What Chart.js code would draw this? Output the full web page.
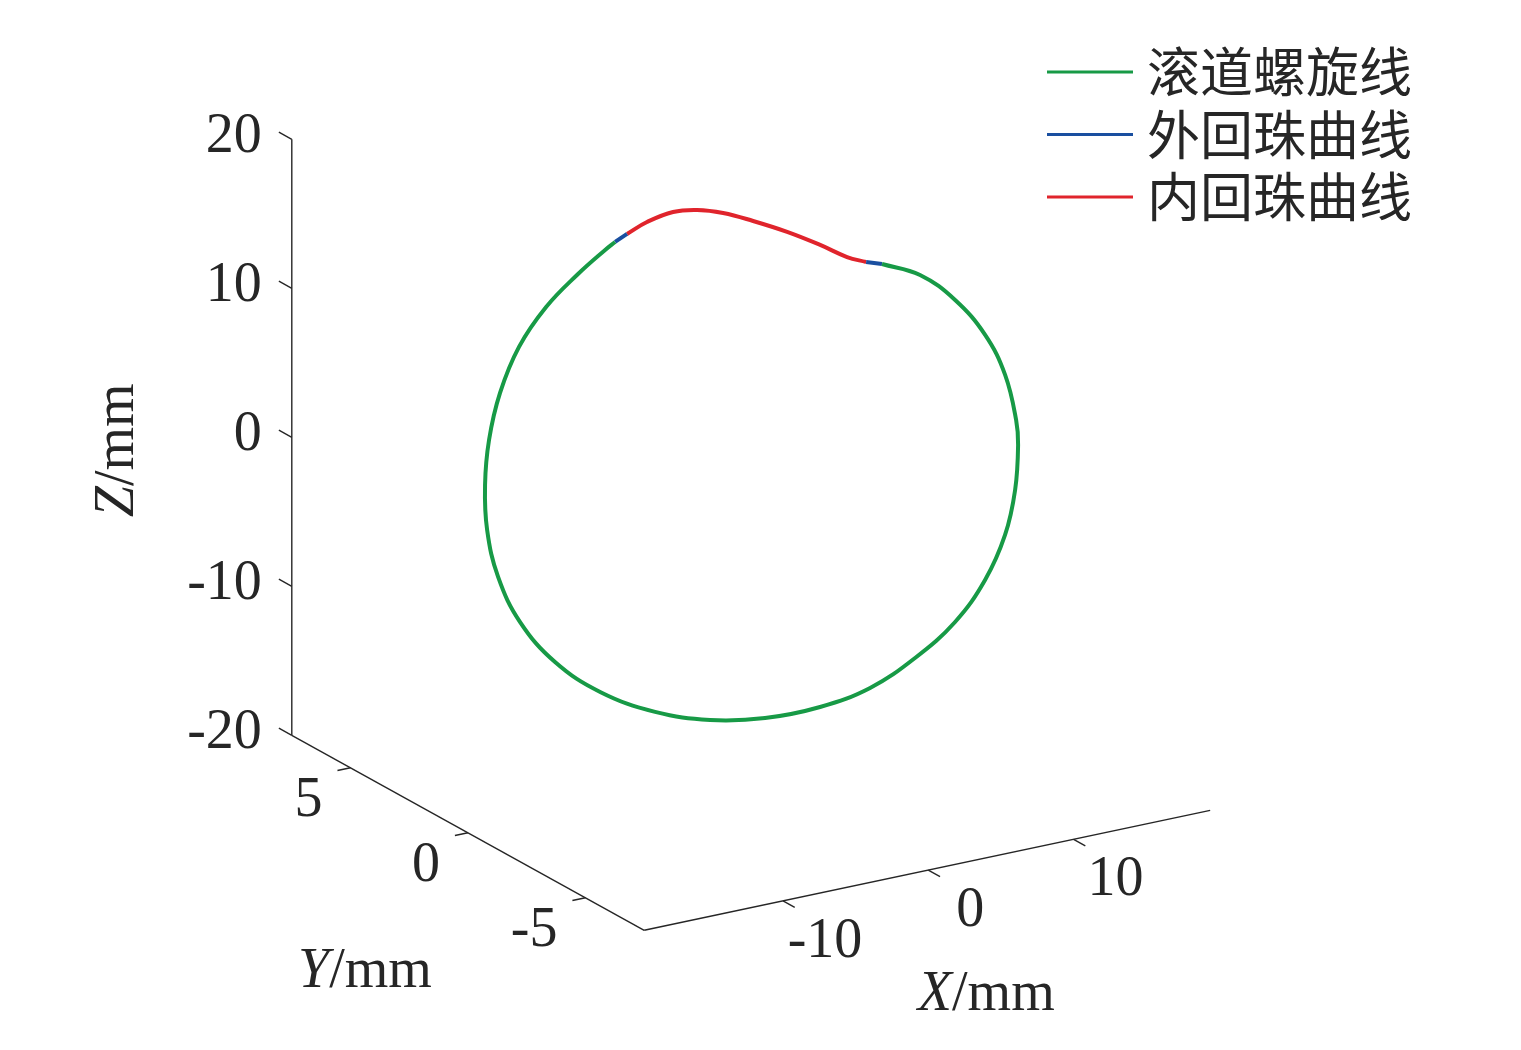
<!DOCTYPE html>
<html>
<head>
<meta charset="utf-8">
<script src="https://cdn.jsdelivr.net/npm/chart.js@4.4.1/dist/chart.umd.min.js"></script>
<style>
  html, body { margin: 0; padding: 0; background: #fff; }
  canvas { display: block; }
</style>
</head>
<body>
<canvas id="chart" width="1521" height="1050"></canvas>
<script>
// legend names
const seriesNames = ["滚道螺旋线", "外回珠曲线", "内回珠曲线"];
const seriesColors = ["#179a46", "#1a4fa0", "#e0242c"];

// raceway helix (mm)
const helixX = [4.90, 7.84, 10.74, 13.13, 14.99, 16.07, 16.53, 16.81, 16.44, 15.55, 13.81, 11.54, 8.77, 5.65, 2.35,
  -1.11, -4.41, -7.87, -10.65, -12.57, -13.76, -14.03, -13.85, -13.09, -12.01, -10.38, -8.03, -5.51, -3.16, -2.15];
const helixY = [-2.5, -2.3, -2.0, -1.8, -1.5, -1.3, -1.1, -0.8, -0.6, -0.3, -0.1, 0.2, 0.4, 0.6, 0.9,
  1.1, 1.4, 1.6, 1.8, 2.1, 2.3, 2.6, 2.8, 3.1, 3.3, 3.5, 3.8, 4.0, 4.3, 4.5];
const helixZ = [15.30, 13.78, 11.24, 8.23, 4.90, 1.48, -0.47, -3.81, -6.93, -10.03, -12.66, -14.87, -16.48, -17.29, -17.61,
  -17.20, -16.24, -14.36, -11.95, -9.13, -6.03, -3.09, -0.28, 2.32, 5.08, 7.66, 9.59, 11.11, 11.98, 12.13];

// outer return curve (two short pieces, null = break)
const outerX = [-2.15, -1.49, null, 3.97, 4.90];
const outerY = [4.5, 4.4, null, -2.4, -2.5];
const outerZ = [12.13, 12.62, null, 15.54, 15.30];

// inner return curve
const innerX = [-1.49, -1.41, -0.75, -0.39, 0.27, 1.04, 2.25, 3.23, 3.95, 3.97];
const innerY = [4.4, 3.6, 2.9, 2.1, 1.4, 0.6, -0.1, -0.9, -1.6, -2.4];
const innerZ = [12.62, 14.10, 15.25, 16.01, 16.28, 16.28, 15.91, 15.53, 15.18, 15.54];

// axis limits and ticks
const xLim = [-19.55, 19.4];
const yLim = [-7.5, 7.5];
const zLim = [-20, 20];
const xTicks = [-10, 0, 10];
const yTicks = [-5, 0, 5];
const zTicks = [-20, -10, 0, 10, 20];

const textColor = "#262626";
const serif = "'Liberation Serif', 'Times New Roman', serif";

// orthographic view (az/el) as a linear map onto the 2D chart plane
const view = { uy: -1.617, vx: 0.2067, vy: 0.8725 };
const project = (x, y, z) => {
  if (x === null) return { x: 0, y: null };
  return { x: x + view.uy * y, y: z + view.vx * x + view.vy * y };
};
const toPoints = (xs, ys, zs) => xs.map((x, i) => project(x, ys[i], zs[i]));

const px = (chart, x, y, z) => {
  const p = project(x, y, z);
  return [chart.scales.x.getPixelForValue(p.x), chart.scales.y.getPixelForValue(p.y)];
};

function axisLabel(ctx, letter, rest, cx, cy, angle) {
  ctx.save();
  ctx.translate(cx, cy);
  ctx.rotate(angle);
  ctx.textBaseline = "middle";
  ctx.textAlign = "left";
  ctx.font = "italic 56px " + serif;
  const w1 = ctx.measureText(letter).width;
  ctx.font = "56px " + serif;
  const w2 = ctx.measureText(rest).width;
  const left = -(w1 + w2) / 2;
  ctx.font = "italic 56px " + serif;
  ctx.fillText(letter, left, 0);
  ctx.font = "56px " + serif;
  ctx.fillText(rest, left + w1, 0);
  ctx.restore();
}

//box axes, ticks and labels
const axesPlugin = {
  id: "axes3d",
  beforeDatasetsDraw(chart) {
    const ctx = chart.ctx;
    const [x0, x1] = xLim, [y0, y1] = yLim, [z0, z1] = zLim;
    ctx.save();
    ctx.strokeStyle = textColor;
    ctx.lineWidth = 1.4;
    const seg = (a, b) => { ctx.beginPath(); ctx.moveTo(a[0], a[1]); ctx.lineTo(b[0], b[1]); ctx.stroke(); };
    seg(px(chart, x0, y1, z0), px(chart, x0, y1, z1));
    seg(px(chart, x0, y1, z0), px(chart, x0, y0, z0));
    seg(px(chart, x0, y0, z0), px(chart, x1, y0, z0));
    zTicks.forEach(t => seg(px(chart, x0, y1, t), px(chart, x0, y1 + 0.55, t)));
    yTicks.forEach(t => seg(px(chart, x0, t, z0), px(chart, x0 - 0.9, t, z0)));
    xTicks.forEach(t => seg(px(chart, t, y0, z0), px(chart, t, y0 - 0.5, z0)));

    ctx.fillStyle = textColor;
    ctx.font = "56px " + serif;
    ctx.textBaseline = "middle";
    ctx.textAlign = "right";
    zTicks.forEach(t => { const p = px(chart, x0, y1, t); ctx.fillText(String(t), p[0] - 30, p[1] - 2); });
    yTicks.forEach(t => { const p = px(chart, x0, t, z0); ctx.fillText(String(t), p[0] - 28, p[1] + 34); });
    ctx.textAlign = "center";
    xTicks.forEach(t => { const p = px(chart, t, y0, z0); ctx.fillText(String(t), p[0] + 42, p[1] + 41); });

    const zm = px(chart, x0, y1, 0);
    axisLabel(ctx, "Z", "/mm", zm[0] - 174, zm[1] + 13, -Math.PI / 2);
    const ym = px(chart, x0, 0, z0);
    axisLabel(ctx, "Y", "/mm", ym[0] - 103, ym[1] + 140, 0);
    const xm = px(chart, 0, y0, z0);
    axisLabel(ctx, "X", "/mm", xm[0] + 58, xm[1] + 125, 0);
    ctx.restore();
  }
};

// legend box top right
const legendPlugin = {
  id: "legendBox",
  afterDraw(chart) {
    const ctx = chart.ctx;
    ctx.save();
    ctx.font = "53px 'Noto Sans CJK SC'";
    ctx.textBaseline = "middle";
    ctx.textAlign = "left";
    chart.data.datasets.forEach((ds, i) => {
      const y = 72 + i * 62.5;
      ctx.strokeStyle = ds.borderColor;
      ctx.lineWidth = 3;
      ctx.beginPath();
      ctx.moveTo(1047, y);
      ctx.lineTo(1133, y);
      ctx.stroke();
      ctx.fillStyle = textColor;
      ctx.fillText(ds.label, 1147, y);
    });
    ctx.restore();
  }
};

const lineStyle = { showLine: true, pointRadius: 0, borderWidth: 4, tension: 0.4, fill: false, spanGaps: false, borderCapStyle: "butt" };

new Chart(document.getElementById("chart"), {
  type: "scatter",
  plugins: [axesPlugin, legendPlugin],
  data: {
    datasets: [
      { ...lineStyle, label: seriesNames[0], borderColor: seriesColors[0], data: toPoints(helixX, helixY, helixZ) },
      { ...lineStyle, label: seriesNames[1], borderColor: seriesColors[1], data: toPoints(outerX, outerY, outerZ) },
      { ...lineStyle, label: seriesNames[2], borderColor: seriesColors[2], data: toPoints(innerX, innerY, innerZ) },
    ],
  },
  options: {
    responsive: false,
    devicePixelRatio: 1,
    animation: false,
    layout: { padding: 0 },
    plugins: { legend: { display: false }, tooltip: { enabled: false } },
    scales: {
      x: { type: "linear", min: -51.76, max: 52.92, display: false },
      y: { type: "linear", min: -38.62, max: 31.85, display: false },
    },
  },
});
</script>
</body>
</html>
